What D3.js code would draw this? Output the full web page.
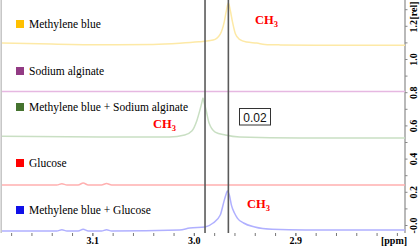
<!DOCTYPE html>
<html>
<head>
<meta charset="utf-8">
<script src="https://cdn.jsdelivr.net/npm/d3@7/dist/d3.min.js"></script>
<style>
    html, body { margin: 0; padding: 0; background: #fff; }
    svg { display: block; }
    .legend-text { font-family: "Liberation Serif", "Times New Roman", serif; font-size: 11.5px; fill: #000; }
    .axis-label { font-family: "Liberation Serif", "Times New Roman", serif; font-size: 10px; font-weight: bold; fill: #000; }
    .ch3 { font-family: "Liberation Serif", "Times New Roman", serif; font-size: 12.5px; font-weight: bold; fill: #ff0000; }
</style>
</head>
<body>
<div id="chart"></div>
<script>
// spectra: [ppm, rel]
const methyleneBlue = [
    [3.189, 1.097], [3.140, 1.090], [3.090, 1.086], [3.040, 1.088], [3.014, 1.095],
    [2.995, 1.104], [2.981, 1.114], [2.974, 1.150], [2.970, 1.225], [2.968, 1.290],
    [2.966, 1.337], [2.964, 1.290], [2.962, 1.225], [2.959, 1.150], [2.955, 1.118],
    [2.948, 1.102], [2.938, 1.096], [2.930, 1.088], [2.915, 1.085], [2.880, 1.083],
    [2.850, 1.083], [2.792, 1.083]
];
const sodiumAlginate = [[3.189, 0.804], [2.792, 0.804]];
const mbAlginate = [
    [3.189, 0.534], [3.092, 0.530], [3.024, 0.530], [3.009, 0.542], [3.002, 0.566],
    [2.997, 0.630], [2.994, 0.693], [2.992, 0.740], [2.991, 0.765], [2.990, 0.740],
    [2.988, 0.693], [2.985, 0.614], [2.979, 0.560], [2.969, 0.542], [2.955, 0.530],
    [2.895, 0.524], [2.792, 0.524]
];
const glucose = [
    [3.189, 0.241], [3.135, 0.241], [3.130, 0.249], [3.125, 0.241], [3.114, 0.241],
    [3.109, 0.253], [3.104, 0.241], [3.091, 0.241], [3.086, 0.250], [3.081, 0.241],
    [2.792, 0.241]
];
const mbGlucose = [
    [3.189, -0.036], [3.135, -0.036], [3.130, -0.029], [3.125, -0.036], [3.114, -0.036],
    [3.109, -0.026], [3.104, -0.036], [3.091, -0.036], [3.086, -0.029], [3.081, -0.036],
    [3.014, -0.030], [3.004, -0.018], [2.989, -0.012], [2.981, 0.012], [2.974, 0.060],
    [2.970, 0.150], [2.968, 0.190], [2.967, 0.205], [2.965, 0.180], [2.963, 0.120],
    [2.960, 0.072], [2.957, 0.040], [2.951, 0.012], [2.940, -0.012], [2.923, -0.026],
    [2.890, -0.030], [2.792, -0.030]
];

const legendNames = ["Methylene blue", "Sodium alginate", "Methylene blue + Sodium alginate", "Glucose", "Methylene blue + Glucose"];
const legendColors = ["#ffc000", "#923b84", "#45732f", "#ff0000", "#1010e8"];
const legendTops = [20, 67, 103, 159, 206];
const lineColors = ["#fde9a6", "#e6b8e1", "#c9dfc3", "#ffb0b0", "#b0b0ff"];

const markerPpm = [2.989, 2.966];
const xMajor = [3.1, 3.0, 2.9];
const xMinor = d3.range(3.18, 2.79, -0.02);
const yMajor = [0, 0.2, 0.4, 0.6, 0.8, 1.0, 1.2];
const yMinor = d3.range(-0.0, 1.35, 0.1);

document.addEventListener('DOMContentLoaded', () => {
    const width = 420, height = 246;
    const left = 2, right = 405, top = 0, bottom = 233;

    const svg = d3.select("#chart").append("svg")
        .attr("width", width)
        .attr("height", height);

    const x = d3.scaleLinear().domain([3.189, 2.792]).range([left, right]);
    const y = d3.scaleLinear().domain([0, 1.2]).range([225, 25.8]);

    // --- frame ---
    svg.append("line")
        .attr("x1", 1.2).attr("x2", 1.2).attr("y1", top).attr("y2", bottom)
        .attr("stroke", "#c4c4c4").attr("stroke-width", 1.5);
    svg.append("line")
        .attr("x1", right).attr("x2", right).attr("y1", top).attr("y2", bottom)
        .attr("stroke", "#8a8a8a").attr("stroke-width", 1.2);

    // --- spectra ---
    const line = d3.line()
        .x(d => x(d[0]))
        .y(d => y(d[1]))
        .curve(d3.curveMonotoneX);

    const spectra = [methyleneBlue, sodiumAlginate, mbAlginate, glucose, mbGlucose];
    svg.append("g").selectAll("path")
        .data(spectra)
        .enter()
        .append("path")
        .attr("d", line)
        .attr("fill", "none")
        .attr("stroke", (d, i) => lineColors[i])
        .attr("stroke-width", 1.5);

    // --- marker lines ---
    svg.append("g").selectAll("line")
        .data(markerPpm)
        .enter()
        .append("line")
        .attr("x1", d => x(d)).attr("x2", d => x(d))
        .attr("y1", top).attr("y2", bottom)
        .attr("stroke", "#5a5a5a").attr("stroke-width", 1.6);

    // --- x axis ---
    const xMinorAxis = d3.axisBottom(x).tickValues(xMinor).tickSize(3).tickFormat("");
    svg.append("g").attr("transform", `translate(0,${bottom})`).call(xMinorAxis)
        .call(g => g.select(".domain").remove())
        .call(g => g.selectAll("line").attr("stroke", "#777"));

    const xAxis = d3.axisBottom(x).tickValues(xMajor).tickSize(3).tickPadding(1).tickFormat(d3.format(".1f"));
    svg.append("g").attr("transform", `translate(0,${bottom})`).call(xAxis)
        .call(g => g.select(".domain").remove())
        .call(g => g.selectAll("line").attr("stroke", "#777"))
        .call(g => g.selectAll("text").attr("class", "axis-label").attr("font-family", null).attr("font-size", null));

    svg.append("text")
        .attr("class", "axis-label")
        .attr("x", 394).attr("y", 244)
        .attr("text-anchor", "middle")
        .text("[ppm]");

    // --- y axis (right) ---
    const yMinorAxis = d3.axisRight(y).tickValues(yMinor).tickSize(2.5).tickFormat("");
    svg.append("g").attr("transform", `translate(${right},0)`).call(yMinorAxis)
        .call(g => g.select(".domain").remove())
        .call(g => g.selectAll("line").attr("stroke", "#888"));

    const yAxis = d3.axisRight(y).tickValues(yMajor).tickSize(0)
        .tickFormat(d => d === 0 ? "-0.0" : d3.format(".1f")(d));
    svg.append("g").attr("transform", `translate(${right},0)`).call(yAxis)
        .call(g => g.select(".domain").remove())
        .call(g => g.selectAll("text")
            .attr("class", "axis-label")
            .attr("font-family", null).attr("font-size", null)
            .attr("x", null).attr("dy", "0.35em")
            .attr("text-anchor", "middle")
            .attr("transform", "translate(8.5,0) rotate(-90)"));

    // unit label at the top of the right axis
    svg.append("text")
        .attr("class", "axis-label")
        .attr("transform", `translate(${right + 8.5},10.5) rotate(-90)`)
        .attr("dy", "0.35em")
        .attr("text-anchor", "middle")
        .text("[rel]");

    // --- legend ---
    const legend = svg.append("g").selectAll("g")
        .data(legendNames)
        .enter()
        .append("g")
        .attr("transform", (d, i) => `translate(16,${legendTops[i]})`);
    legend.append("rect")
        .attr("width", 8).attr("height", 8)
        .attr("fill", (d, i) => legendColors[i]);
    legend.append("text")
        .attr("class", "legend-text")
        .attr("x", 13).attr("y", 7.5)
        .attr("xml:space", "preserve")
        .text(d => d);

    // --- CH3 annotations ---
    const ch3Spots = [[255, 24], [153, 127.5], [247, 208]];
    ch3Spots.forEach(p => {
        const t = svg.append("text").attr("class", "ch3").attr("x", p[0]).attr("y", p[1]);
        t.append("tspan").text("CH");
        t.append("tspan").attr("dy", 3).attr("font-size", "8.5px").text("3");
    });

    // --- shift box ---
    svg.append("rect")
        .attr("x", 239.5).attr("y", 108.5).attr("width", 31).attr("height", 16.5)
        .attr("fill", "#fff").attr("stroke", "#333").attr("stroke-width", 1);
    svg.append("text")
        .attr("x", 255).attr("y", 121.5)
        .attr("text-anchor", "middle")
        .attr("font-family", "Liberation Sans, Arial, sans-serif")
        .attr("font-size", "12px")
        .attr("fill", "#111")
        .text("0.02");
});
</script>
</body>
</html>
